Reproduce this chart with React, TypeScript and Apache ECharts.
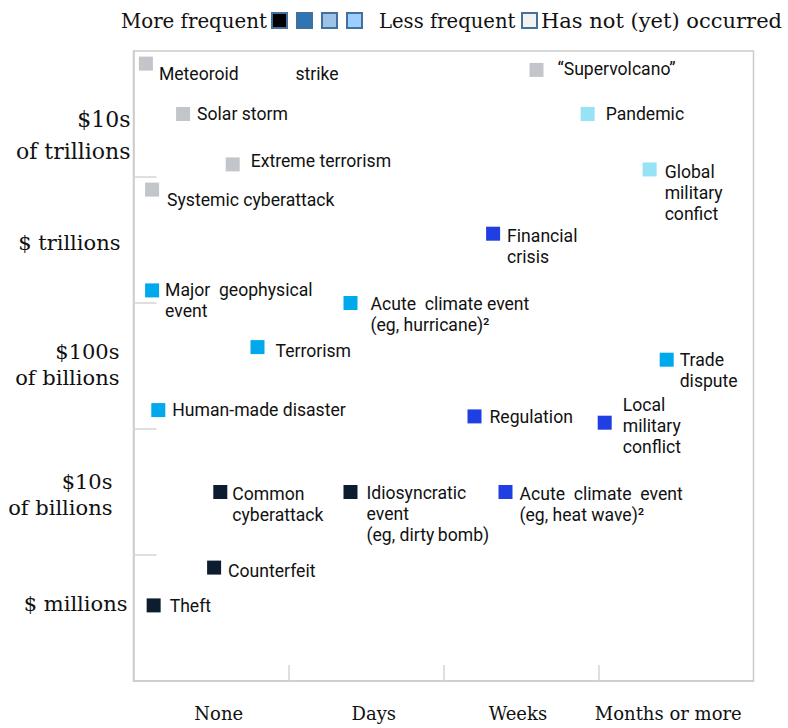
import React, { useEffect, useRef } from "react";
import * as echarts from "echarts";

// ---- data ----
const riskNames = [
  "Meteoroid             strike",
  "Solar storm",
  "Extreme terrorism",
  "Systemic cyberattack",
  "\u201cSupervolcano\u201d",
  "Pandemic",
  "Global\nmilitary\nconfict",
  "Financial\ncrisis",
  "Regulation",
  "Local\nmilitary\nconflict",
  "Acute  climate  event\n(eg, heat wave)\u00b2",
  "Major  geophysical\nevent",
  "Acute  climate event\n(eg, hurricane)\u00b2",
  "Terrorism",
  "Human-made disaster",
  "Trade\ndispute",
  "Common\ncyberattack",
  "Idiosyncratic\nevent\n(eg, dirty\u2009bomb)",
  "Counterfeit",
  "Theft",
];
// duration of disruption (0 = None ... 4 = end of "Months or more")
const durationScore = [0.08, 0.32, 0.64, 0.12, 2.6, 2.93, 3.33, 2.32, 2.2, 3.04, 2.4, 0.12, 1.4, 0.8, 0.16, 3.44, 0.56, 1.4, 0.52, 0.13];
// size of impact (0 = bottom ... 5 = top)
const impactScore = [4.9, 4.5, 4.1, 3.9, 4.85, 4.5, 4.06, 3.55, 2.1, 2.05, 1.5, 3.1, 3.0, 2.65, 2.15, 2.55, 1.5, 1.5, 0.9, 0.6];
// 0 = more frequent ... 3 = less frequent, 4 = has not (yet) occurred
const frequencyLevel = [4, 4, 4, 4, 4, 3, 3, 1, 1, 1, 1, 2, 2, 2, 2, 2, 0, 0, 0, 0];
const xCategoryLabels = ["None", "Days", "Weeks", "Months or more"];
const yCategoryLabels = ["$ millions", "$10s\nof billions", "$100s\nof billions", "$ trillions", "$10s\nof trillions"];
const legendTexts = ["More frequent", "Less frequent", "Has not (yet) occurred"];

// ---- styles ----
const markerColors = ["#0b1d2e", "#1f3fe3", "#00a8ec", "#97e3f5", "#c2c5c9"];
const legendColors = ["#000000", "#2e75b6", "#9dc3e6", "#9ccfff", "#f2f2f2"];
const xLabelAt = [0.55, 1.55, 2.48, 3.45];
const yLabelAt = [0.61, 1.48, 2.51, 3.48, 4.33];
const yLabelPadRight = [3, 18, 11, 10, 0];
// label nudges [dx, dy]
const labelNudge = [
  [0, 10], [1, 0], [5, -3], [2, 10], [8, -1], [5, 0], [2, 3], [1, 2], [2, 1], [5, 3],
  [1, 2], [0, 0], [7, 1], [5, 4], [1, 0], [0, 0], [-1, 2], [3, 1], [1, 3], [3, 1],
];
const centeredLabel = [9];

const SERIF = "'DejaVu Serif', serif";
const SANS = "Roboto, sans-serif";
const LH = 21;

export default function App() {
  const ref = useRef<HTMLDivElement>(null);
  useEffect(() => {
    if (!ref.current) return;
    const chart = echarts.init(ref.current, null, { renderer: "svg" });

    const data = riskNames.map((name, i) => ({
      name,
      value: [durationScore[i], impactScore[i]],
      itemStyle: { color: markerColors[frequencyLevel[i]], opacity: 1 },
    }));

    const rich: Record<string, any> = {};
    yLabelPadRight.forEach((p, i) => {
      rich["r" + i] = {
        fontFamily: SERIF,
        fontSize: i === 4 ? 22 : 21,
        lineHeight: i === 4 ? 32 : 26,
        color: "#111",
        align: "right",
        padding: [0, p, 0, 0],
      };
    });

    const findIdx = (arr: number[], v: number) => arr.findIndex((a) => Math.abs(a - v) < 1e-6);

    const legendEls: any[] = [];
    legendEls.push({ type: "text", x: 121, y: 21, style: { text: legendTexts[0], font: `19.8px ${SERIF}`, fill: "#111", verticalAlign: "middle" } });
    [272, 297, 322, 347].forEach((x, i) => {
      legendEls.push({ type: "rect", shape: { x, y: 13, width: 15, height: 15 }, style: { fill: legendColors[i], stroke: "#41719c", lineWidth: 2 } });
    });
    legendEls.push({ type: "text", x: 379, y: 21, style: { text: legendTexts[1], font: `19.6px ${SERIF}`, fill: "#111", verticalAlign: "middle" } });
    legendEls.push({ type: "rect", shape: { x: 522, y: 13, width: 15, height: 15 }, style: { fill: legendColors[4], stroke: "#41719c", lineWidth: 2 } });
    legendEls.push({ type: "text", x: 541, y: 21, style: { text: legendTexts[2], font: `21px ${SERIF}`, fill: "#111", verticalAlign: "middle" } });

    chart.setOption({
      animation: false,
      backgroundColor: "#ffffff",
      grid: { left: 133.5, right: 34.5, top: 51, bottom: 47, show: true, borderColor: "#cccccc", borderWidth: 1.5, backgroundColor: "transparent" },
      xAxis: {
        type: "value",
        min: 0,
        max: 4,
        splitLine: { show: false },
        axisLine: { show: true, lineStyle: { color: "#cccccc", width: 1.5 } },
        axisTick: { show: true, inside: true, length: 16, customValues: [1, 2, 3], lineStyle: { color: "#d4d4d4", width: 1.5 } },
        axisLabel: {
          customValues: xLabelAt,
          formatter: (v: number) => xCategoryLabels[findIdx(xLabelAt, v)] ?? "",
          margin: 23,
          fontFamily: SERIF,
          fontSize: 18,
          color: "#111",
        },
      },
      yAxis: {
        type: "value",
        min: 0,
        max: 5,
        splitLine: { show: false },
        axisLine: { show: true, lineStyle: { color: "#cccccc", width: 1.5 } },
        axisTick: { show: true, inside: true, length: 23, customValues: [1, 2, 3, 4], lineStyle: { color: "#d4d4d4", width: 1.5 } },
        axisLabel: {
          customValues: yLabelAt,
          formatter: (v: number) => {
            const i = findIdx(yLabelAt, v);
            if (i < 0) return "";
            return yCategoryLabels[i].split("\n").map((l) => `{r${i}|${l}}`).join("\n");
          },
          margin: 3,
          rich,
        },
      },
      graphic: legendEls,
      series: [
        {
          type: "scatter",
          symbol: "rect",
          symbolSize: 14,
          data,
          label: {
            show: true,
            position: "right",
            distance: 6,
            formatter: (p: any) => p.name,
            color: "#111",
            fontFamily: SANS,
            fontSize: 17.6,
            lineHeight: LH,
            align: "left",
          },
          labelLayout: (p: any) => {
            const i = p.dataIndex;
            const lines = riskNames[i].split("\n").length;
            const topAligned = centeredLabel.indexOf(i) < 0;
            return {
              dx: labelNudge[i][0],
              dy: (topAligned ? ((lines - 1) * LH) / 2 : 0) + labelNudge[i][1],
              hideOverlap: false,
            };
          },
        },
      ],
    });
    return () => chart.dispose();
  }, []);
  return <div ref={ref} style={{ width: 788, height: 728, position: "absolute", left: 0, top: 0 }} />;
}
